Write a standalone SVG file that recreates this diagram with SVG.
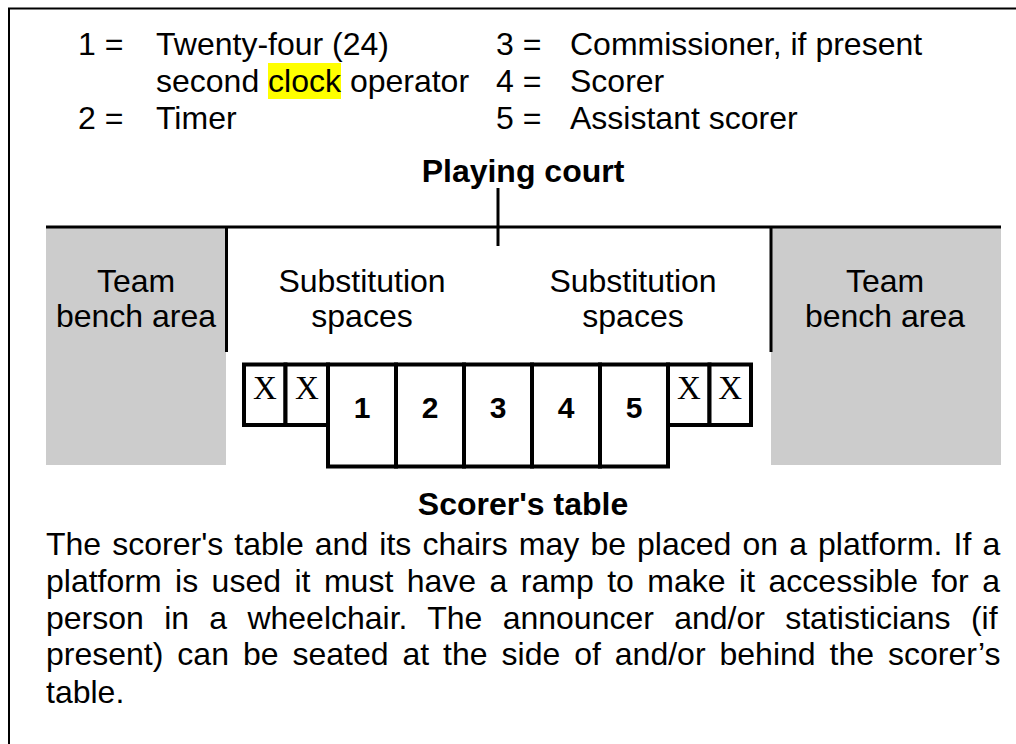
<svg xmlns="http://www.w3.org/2000/svg" width="1016" height="744" viewBox="0 0 1016 744">
<style>
.t{font-family:"Liberation Sans",Arial,sans-serif;font-size:32px;fill:#000}
.b{font-family:"Liberation Sans",Arial,sans-serif;font-size:32px;font-weight:bold;fill:#000}
.n{font-family:"Liberation Sans",Arial,sans-serif;font-size:30px;font-weight:bold;fill:#000}
.x{font-family:"Liberation Serif","Times New Roman",serif;font-size:33px;fill:#000}
.box{fill:#fff;stroke:#000;stroke-width:4}
.bench{fill:#cccccc}
.ln{stroke:#000;stroke-width:3;fill:none}
</style>
<rect x="0" y="0" width="1016" height="744" fill="#fff"/>
<rect x="9" y="8.5" width="1100" height="800" fill="none" stroke="#000" stroke-width="2"/>
<g id="legend">
<rect x="268" y="63" width="73" height="36" fill="#ffff00"/>
<text class="t" x="78" y="55">1 =</text>
<text class="t" x="156" y="55">Twenty-four (24)</text>
<text class="t" x="156" y="92">second clock operator</text>
<text class="t" x="78" y="128.5">2 =</text>
<text class="t" x="156" y="128.5">Timer</text>
<text class="t" x="496" y="55">3 =</text>
<text class="t" x="570" y="55">Commissioner, if present</text>
<text class="t" x="496" y="92">4 =</text>
<text class="t" x="570" y="92">Scorer</text>
<text class="t" x="496" y="128.5">5 =</text>
<text class="t" x="570" y="128.5">Assistant scorer</text>
</g>
<g id="playing-court">
<text class="b" x="523" y="182" text-anchor="middle">Playing court</text>
</g>
<g id="bench-left">
<rect class="bench" x="46" y="228" width="180" height="237"/>
<text class="t" x="136" y="291.5" text-anchor="middle">Team</text>
<text class="t" x="136" y="326.5" text-anchor="middle">bench area</text>
</g>
<g id="bench-right">
<rect class="bench" x="771" y="228" width="230" height="237"/>
<text class="t" x="885" y="291.5" text-anchor="middle">Team</text>
<text class="t" x="885" y="326.5" text-anchor="middle">bench area</text>
</g>
<g id="sub-left">
<text class="t" x="362" y="291.5" text-anchor="middle">Substitution</text>
<text class="t" x="362" y="326.5" text-anchor="middle">spaces</text>
</g>
<g id="sub-right">
<text class="t" x="633" y="291.5" text-anchor="middle">Substitution</text>
<text class="t" x="633" y="326.5" text-anchor="middle">spaces</text>
</g>
<g id="connectors">
<line class="ln" x1="46" y1="227" x2="1001" y2="227"/>
<line class="ln" x1="498" y1="188" x2="498" y2="246"/>
<line class="ln" x1="226.5" y1="227" x2="226.5" y2="352"/>
<line class="ln" x1="771" y1="227" x2="771" y2="352"/>
</g>
<g id="chair-x1"><rect class="box" x="244" y="364.5" width="41.5" height="60.5"/><text class="x" x="264.8" y="398.5" text-anchor="middle">X</text></g>
<g id="chair-x2"><rect class="box" x="285.5" y="364.5" width="42.5" height="60.5"/><text class="x" x="306.8" y="398.5" text-anchor="middle">X</text></g>
<g id="seat-1"><rect class="box" x="328" y="364.5" width="68" height="102"/><text class="n" x="362" y="418" text-anchor="middle">1</text></g>
<g id="seat-2"><rect class="box" x="396" y="364.5" width="68" height="102"/><text class="n" x="430" y="418" text-anchor="middle">2</text></g>
<g id="seat-3"><rect class="box" x="464" y="364.5" width="68" height="102"/><text class="n" x="498" y="418" text-anchor="middle">3</text></g>
<g id="seat-4"><rect class="box" x="532" y="364.5" width="68" height="102"/><text class="n" x="566" y="418" text-anchor="middle">4</text></g>
<g id="seat-5"><rect class="box" x="600" y="364.5" width="68" height="102"/><text class="n" x="634" y="418" text-anchor="middle">5</text></g>
<g id="chair-x3"><rect class="box" x="668" y="364.5" width="41.5" height="60.5"/><text class="x" x="688.8" y="398.5" text-anchor="middle">X</text></g>
<g id="chair-x4"><rect class="box" x="709.5" y="364.5" width="41.5" height="60.5"/><text class="x" x="730.2" y="398.5" text-anchor="middle">X</text></g>
<g id="scorers-table">
<text class="b" x="523" y="514.5" text-anchor="middle">Scorer's table</text>
</g>
<g id="note">
<text class="t" x="46" y="555" style="word-spacing:2.2px">The scorer's table and its chairs may be placed on a platform. If a</text>
<text class="t" x="46" y="592" style="word-spacing:4.57px">platform is used it must have a ramp to make it accessible for a</text>
<text class="t" x="46" y="628.5" style="word-spacing:11.4px">person in a wheelchair. The announcer and/or statisticians (if</text>
<text class="t" x="46" y="665" style="word-spacing:5.06px">present) can be seated at the side of and/or behind the scorer’s</text>
<text class="t" x="46" y="702.5">table.</text>
</g>
</svg>
